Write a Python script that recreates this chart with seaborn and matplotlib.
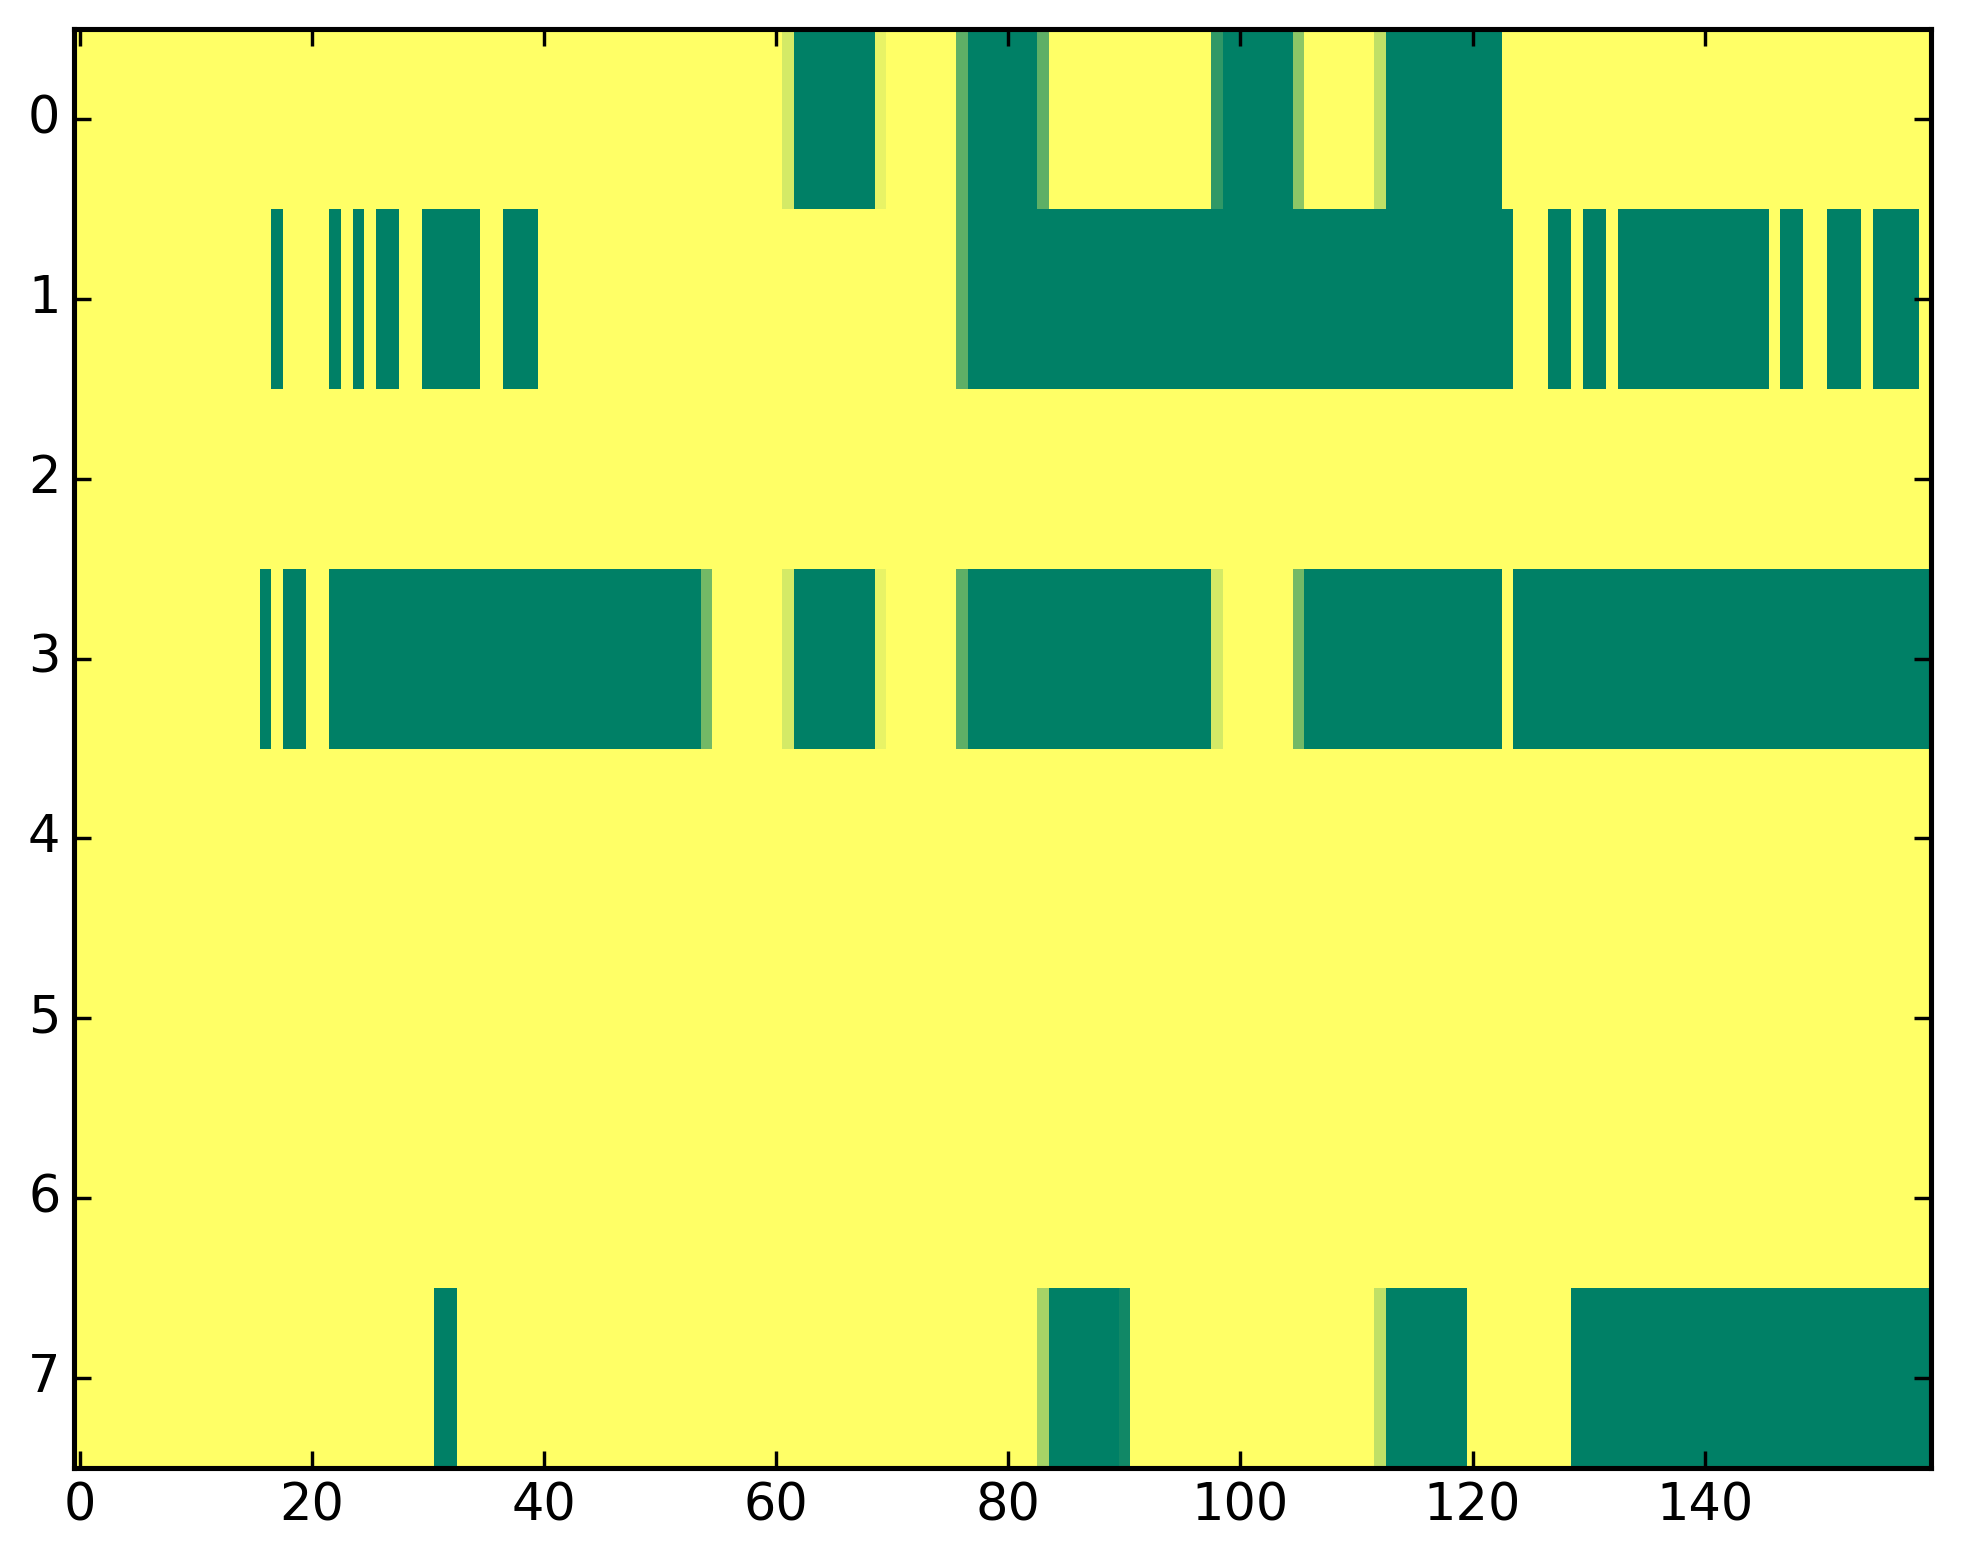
import numpy as np
import pandas as pd
import matplotlib
matplotlib.use("Agg")
import matplotlib.pyplot as plt
import seaborn as sns

n_rows = 8
n_cols = 160

# dark (value 0) column runs, inclusive, and cells with in-between values
row0_dark = [(62, 68), (77, 82), (99, 104), (113, 122)]
row0_partial = {61: 0.83, 69: 0.91, 76: 0.37, 83: 0.37, 98: 0.19, 105: 0.55, 112: 0.75}

row1_dark = [(17, 17), (22, 22), (24, 24), (26, 27), (30, 34), (37, 39), (77, 123),
             (127, 128), (130, 131), (133, 145), (147, 148), (151, 153), (155, 158)]
row1_partial = {76: 0.37}

row3_dark = [(16, 16), (18, 19), (22, 53), (62, 68), (77, 97), (106, 122), (124, 159)]
row3_partial = {54: 0.45, 61: 0.83, 69: 0.91, 76: 0.37, 98: 0.83, 105: 0.45}

row7_dark = [(31, 32), (84, 89), (113, 119), (129, 159)]
row7_partial = {83: 0.65, 90: 0.07, 112: 0.75}

x_ticks = [0, 20, 40, 60, 80, 100, 120, 140]
y_ticks = [0, 1, 2, 3, 4, 5, 6, 7]


def build_row(dark, partial):
    row = np.ones(n_cols)
    for a, b in dark:
        row[a:b + 1] = 0.0
    for c, v in partial.items():
        row[c] = v
    return row


grid = np.ones((n_rows, n_cols))
grid[0] = build_row(row0_dark, row0_partial)
grid[1] = build_row(row1_dark, row1_partial)
grid[3] = build_row(row3_dark, row3_partial)
grid[7] = build_row(row7_dark, row7_partial)
data = pd.DataFrame(grid)

sns.set_style("white", {"xtick.bottom": True, "xtick.top": True,
                        "ytick.left": True, "ytick.right": True,
                        "xtick.direction": "in", "ytick.direction": "in"})
plt.rcParams['font.family'] = ['DejaVu Sans']
plt.rcParams['xtick.major.size'] = 5
plt.rcParams['ytick.major.size'] = 5
plt.rcParams['xtick.major.width'] = 1.0
plt.rcParams['ytick.major.width'] = 1.0

dpi = 245
fig = plt.figure(figsize=(1963 / dpi, 1564 / dpi), dpi=dpi)
ax = fig.add_axes([0.0377, 0.0614, 0.946, 0.92])

sns.heatmap(data, cmap="summer", vmin=0, vmax=1, cbar=False, ax=ax)

ax.set_xticks([t + 0.5 for t in x_ticks])
ax.set_xticklabels([str(t) for t in x_ticks], rotation=0)
ax.set_yticks([t + 0.5 for t in y_ticks])
ax.set_yticklabels([str(t) for t in y_ticks], rotation=0)
ax.set_xlabel("")
ax.set_ylabel("")

for s in ax.spines.values():
    s.set_visible(True)
    s.set_linewidth(1.5)
    s.set_color("black")
    s.set_zorder(5)

ax.tick_params(direction="in", length=5, width=1.0, top=True, right=True,
               bottom=True, left=True, labelsize=15, pad=4, colors="black")
ax.set_axisbelow(False)

fig.savefig("out.png", dpi=dpi)
